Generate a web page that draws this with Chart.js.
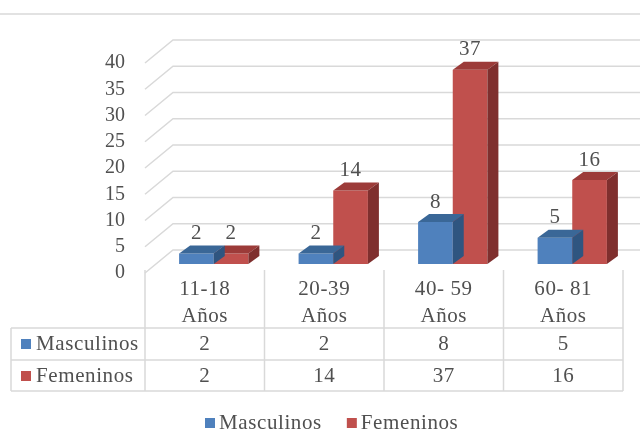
<!DOCTYPE html>
<html>
<head>
<meta charset="utf-8">
<script src="https://cdn.jsdelivr.net/npm/chart.js@4"></script>
<style>
  body { margin: 0; background: #fff; }
  #wrap { width: 640px; height: 436px; }
</style>
</head>
<body>
<div id="wrap"><canvas id="grafico" width="640" height="436"></canvas></div>
<script>
const categorias = [['11-18', 'Años'], ['20-39', 'Años'], ['40- 59', 'Años'], ['60- 81', 'Años']];
const masculinos = [2, 2, 8, 5];
const femeninos = [2, 14, 37, 16];
const series = ['Masculinos', 'Femeninos'];

const FONT = '"Liberation Serif", "Times New Roman", serif';
const TEXTO = '#505050';
const GRID = '#d9d9d9';
// offsets from the bar plane to the front plane and to the back wall
const FRONT = { dx: -9, dy: 9 };
const BACK = { dx: 19, dy: -14 };
const DEPTH = { dx: 11, dy: -8 };
const caras = [
    { front: '#4f81bd', top: '#3a6797', side: '#2f5580' },
    { front: '#c0504d', top: '#9c3b39', side: '#7f2f2e' }
];

// back wall, side wall lines, top border, bar faces and value labels
const paredes = {
    id: 'paredes',
    beforeDatasetsDraw(chart) {
        const ctx = chart.ctx, y = chart.scales.y, area = chart.chartArea;
        ctx.save();
        ctx.strokeStyle = GRID;
        ctx.lineWidth = 1.5;
        ctx.beginPath();
        ctx.moveTo(0, 14); ctx.lineTo(640, 14);
        y.ticks.forEach(t => {
            const py = y.getPixelForValue(t.value);
            ctx.moveTo(area.left + FRONT.dx, py + FRONT.dy);
            ctx.lineTo(area.left + BACK.dx, py + BACK.dy);
            ctx.lineTo(chart.width, py + BACK.dy);
        });
        ctx.stroke();
        ctx.restore();
    },
    afterDatasetDraw(chart, args) {
        const ctx = chart.ctx, c = caras[args.index];
        ctx.save();
        args.meta.data.forEach(el => {
            const l = el.x - el.width / 2, r = el.x + el.width / 2;
            ctx.fillStyle = c.top;
            ctx.beginPath();
            ctx.moveTo(l, el.y); ctx.lineTo(l + DEPTH.dx, el.y + DEPTH.dy);
            ctx.lineTo(r + DEPTH.dx, el.y + DEPTH.dy); ctx.lineTo(r, el.y);
            ctx.closePath(); ctx.fill();
            ctx.fillStyle = c.side;
            ctx.beginPath();
            ctx.moveTo(r, el.y); ctx.lineTo(r + DEPTH.dx, el.y + DEPTH.dy);
            ctx.lineTo(r + DEPTH.dx, el.base + DEPTH.dy); ctx.lineTo(r, el.base);
            ctx.closePath(); ctx.fill();
        });
        ctx.restore();
    },
    afterDatasetsDraw(chart) {
        const ctx = chart.ctx;
        ctx.save();
        ctx.font = '21px ' + FONT;
        ctx.letterSpacing = '0.5px';
        ctx.fillStyle = TEXTO;
        ctx.textAlign = 'center';
        ctx.textBaseline = 'middle';
        chart.data.datasets.forEach((ds, i) => {
            chart.getDatasetMeta(i).data.forEach((el, j) => {
                ctx.fillText(String(ds.data[j]), el.x, el.y - 20);
            });
        });
        ctx.restore();
    }
};

// data table under the plot and the legend
const tabla = {
    id: 'tabla',
    afterDraw(chart) {
        const ctx = chart.ctx, y = chart.scales.y;
        const floorY = y.getPixelForValue(0) + FRONT.dy;
        const anchoCat = (chart.chartArea.right - chart.chartArea.left) / categorias.length;
        const bordes = [];
        for (let i = 0; i <= categorias.length; i++) {
            bordes.push(chart.chartArea.left + FRONT.dx + i * anchoCat);
        }
        const left = 11, r1 = 328, r2 = 360, r3 = 391;
        ctx.save();
        ctx.strokeStyle = GRID;
        ctx.lineWidth = 1.5;
        ctx.beginPath();
        bordes.forEach(bx => { ctx.moveTo(bx, floorY - 3); ctx.lineTo(bx, r3); });
        [r1, r2, r3].forEach(ry => { ctx.moveTo(left, ry); ctx.lineTo(bordes[bordes.length - 1], ry); });
        ctx.moveTo(left, r1); ctx.lineTo(left, r3);
        ctx.stroke();

        ctx.font = '21px ' + FONT;
        ctx.letterSpacing = '0.6px';
        ctx.fillStyle = TEXTO;
        ctx.textBaseline = 'middle';
        ctx.textAlign = 'center';
        categorias.forEach((lab, i) => {
            const cx = (bordes[i] + bordes[i + 1]) / 2;
            ctx.fillText(lab[0], cx, 289);
            ctx.fillText(lab[1], cx, 316);
        });
        const filas = [masculinos, femeninos];
        const filaY = [344, 376];
        filas.forEach((vals, k) => {
            ctx.textAlign = 'center';
            vals.forEach((v, i) => {
                ctx.fillText(String(v), (bordes[i] + bordes[i + 1]) / 2, filaY[k]);
            });
            ctx.fillStyle = caras[k].front;
            ctx.fillRect(21, filaY[k] - 5, 10, 10);
            ctx.fillStyle = TEXTO;
            ctx.textAlign = 'left';
            ctx.fillText(series[k], 36, filaY[k]);
        });

        // legend
        let lx = 205;
        series.forEach((s, k) => {
            ctx.fillStyle = caras[k].front;
            ctx.fillRect(lx, 418, 10, 10);
            ctx.fillStyle = TEXTO;
            ctx.textAlign = 'left';
            ctx.fillText(s, lx + 14, 423);
            lx += 14 + ctx.measureText(s).width + 25;
        });
        ctx.restore();
    }
};

const grafico = new Chart(document.getElementById('grafico'), {
    type: 'bar',
    data: {
        labels: categorias,
        datasets: [{
            label: series[0],
            data: masculinos,
            backgroundColor: caras[0].front
        }, {
            label: series[1],
            data: femeninos,
            backgroundColor: caras[1].front
        }]
    },
    options: {
        responsive: false,
        animation: false,
        layout: { padding: { left: 0, right: 8, top: 54, bottom: 172 } },
        categoryPercentage: 0.58,
        barPercentage: 1,
        plugins: {
            legend: { display: false },
            tooltip: { enabled: false }
        },
        scales: {
            x: { display: false },
            y: {
                min: 0,
                max: 40,
                afterFit(s) { s.width = 154; },
                grid: { display: false, drawTicks: false },
                border: { display: false },
                ticks: {
                    stepSize: 5,
                    autoSkip: false,
                    padding: 29,
                    labelOffset: 9,
                    color: TEXTO,
                    font: { family: FONT, size: 20 }
                }
            }
        }
    },
    plugins: [paredes, tabla]
});
</script>
</body>
</html>
